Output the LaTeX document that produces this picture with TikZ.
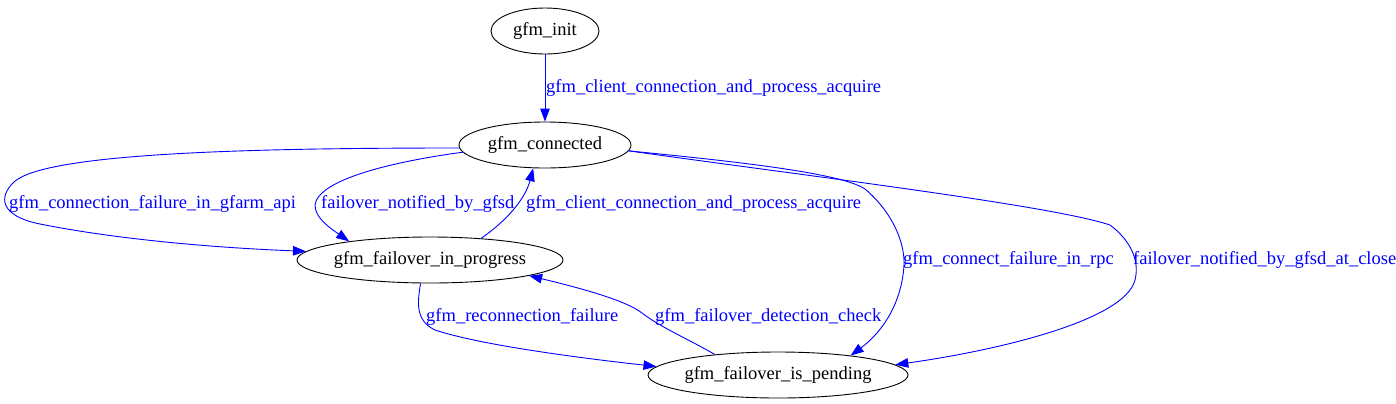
\documentclass[tikz,border=0pt]{standalone}
\usepackage{fontspec}
\setmainfont{Liberation Serif}
\usetikzlibrary{shapes.geometric,arrows.meta}
\tikzset{
  state/.style={draw,ellipse,inner sep=0pt,minimum height=46bp,line width=0.9bp,font=\fontsize{18.5bp}{22bp}\selectfont},
  lbl/.style={anchor=west,inner sep=0pt,text=blue,font=\fontsize{18.5bp}{22bp}\selectfont},
  trans/.style={draw=blue,line width=0.9bp,-{Triangle[length=13bp,width=9.5bp,fill=blue]}}
}
\begin{document}
\begin{tikzpicture}[x=1bp,y=-1bp]
      \useasboundingbox (0,0) rectangle (1396,403);
      \node[state,minimum width=108bp] (init) at (545,31) {\makebox[0pt]{gfm\_init}};
      \node[state,minimum width=172bp] (connected) at (545,145) {\makebox[0pt]{gfm\_connected}};
      \node[state,minimum width=266bp] (inprog) at (430,260) {\makebox[0pt]{gfm\_failover\_in\_progress}};
      \node[state,minimum width=260bp] (pending) at (778,375) {\makebox[0pt]{gfm\_failover\_is\_pending}};
      \begin{scope}[trans]
        \draw (init) -- (connected);
        \draw (connected.182) .. controls (250,148) and (45,153) .. (14,182)
          .. controls (-2,197) and (0,216) .. (40,224)
          .. controls (120,240) and (220,248) .. (inprog.176);
        \draw (connected.-175) .. controls (390,162) and (318,180) .. (315,205)
          .. controls (315,218) and (330,228) .. (inprog.167);
        \draw (inprog.23) .. controls (505,222) and (525,200) .. (connected.-117);
        \draw (connected.-4) .. controls (720,160) and (840,172) .. (865,189)
          .. controls (890,210) and (905,240) .. (904,265)
          .. controls (902,300) and (885,330) .. (pending.15);
        \draw (connected.-4) .. controls (800,175) and (1050,205) .. (1110,225)
          .. controls (1130,240) and (1140,260) .. (1135,280)
          .. controls (1125,320) and (1000,350) .. (pending.5);
        \draw (inprog.-112) .. controls (418,300) and (414,320) .. (435,330)
          .. controls (480,345) and (580,358) .. (pending.176);
        \draw (pending.162) .. controls (690,340) and (660,327) .. (642,313)
          .. controls (625,300) and (580,288) .. (inprog.-9);
      \end{scope}
      \node[lbl] (l1) at (546,88) {gfm\_client\_connection\_and\_process\_acquire};
      \node[lbl] (l2) at (9,204) {gfm\_connection\_failure\_in\_gfarm\_api};
      \node[lbl] (l3) at (321,204) {failover\_notified\_by\_gfsd};
      \node[lbl] (l4) at (526,204) {gfm\_client\_connection\_and\_process\_acquire};
      \node[lbl] (l5) at (903,260) {gfm\_connect\_failure\_in\_rpc};
      \node[lbl] (l6) at (1133,260) {failover\_notified\_by\_gfsd\_at\_close};
      \node[lbl] (l7) at (426,317) {gfm\_reconnection\_failure};
      \node[lbl] (l8) at (655,317) {gfm\_failover\_detection\_check};
    \end{tikzpicture}
\end{document}
